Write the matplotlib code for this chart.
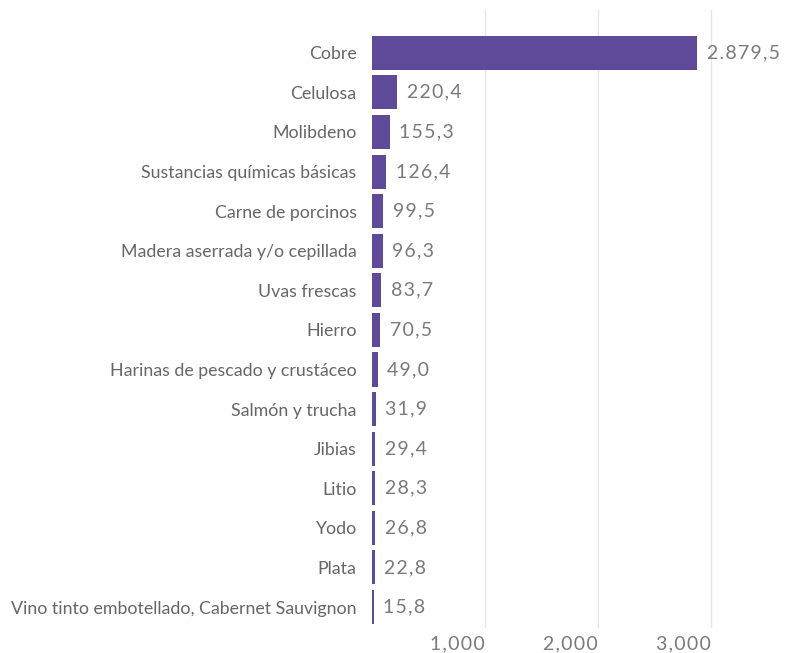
import matplotlib.pyplot as plt

plt.rcParams['font.family'] = ['Lato', 'DejaVu Sans']

products = ['Cobre', 'Celulosa', 'Molibdeno', 'Sustancias químicas básicas',
            'Carne de porcinos', 'Madera aserrada y/o cepillada', 'Uvas frescas',
            'Hierro', 'Harinas de pescado y crustáceo', 'Salmón y trucha',
            'Jibias', 'Litio', 'Yodo', 'Plata',
            'Vino tinto embotellado, Cabernet Sauvignon']
values = [2879.5, 220.4, 155.3, 126.4, 99.5, 96.3, 83.7, 70.5, 49.0, 31.9,
          29.4, 28.3, 26.8, 22.8, 15.8]
value_labels = ['2.879,5', '220,4', '155,3', '126,4', '99,5', '96,3', '83,7',
                '70,5', '49,0', '31,9', '29,4', '28,3', '26,8', '22,8', '15,8']
xticks = [1000, 2000, 3000]
xtick_labels = ['1,000', '2,000', '3,000']


def spaced(s):
    # a little letter spacing, like the original
    return '\u200a'.join(s)


fig = plt.figure(figsize=(7.86, 6.53), dpi=100)
ax = fig.add_axes([372 / 786, 25 / 653, 414 / 786, 618 / 653])

ypos = list(range(len(products)))
bars = ax.barh(ypos, values, height=0.86, color='#5F4A9A', zorder=3)

for b, lab in zip(bars, value_labels):
    ax.text(b.get_width() + 85, b.get_y() + b.get_height() / 2, spaced(lab),
            va='center', ha='left', fontsize=14, color='#7a7a7a')

ax.set_yticks(ypos)
ax.set_yticklabels(products, fontsize=12.8, color='#666666')
ax.set_xticks(xticks)
ax.set_xticklabels([spaced(t) for t in xtick_labels], fontsize=14,
                   color='#7a7a7a', ha='right')
ax.tick_params(axis='both', length=0)
ax.tick_params(axis='y', pad=11)
ax.tick_params(axis='x', pad=5)

ax.set_xlim(0, 3664)
ax.set_ylim(14.53, -1.08)
ax.grid(axis='x', color='#e6e6e6', linewidth=1, zorder=0)
for s in ax.spines.values():
    s.set_visible(False)

fig.savefig('out.png', dpi=100)
